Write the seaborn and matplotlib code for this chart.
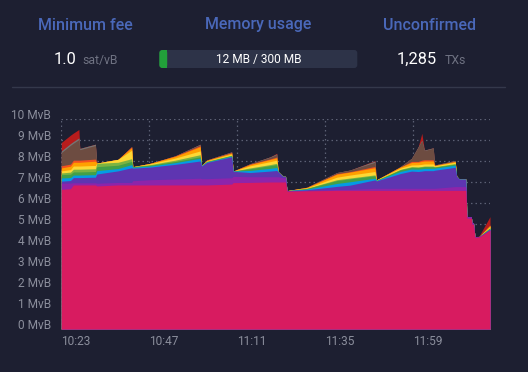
import numpy as np
import pandas as pd
import matplotlib
matplotlib.use("Agg")
import matplotlib.pyplot as plt
import matplotlib.transforms as mtransforms
from matplotlib.patches import FancyBboxPatch, Rectangle
import seaborn as sns

# ---------------- data ----------------
# minutes after 10:23
minutes = [0.0, 2.5, 3.3, 4.8, 5.05, 9.3, 9.7, 15.5, 19.2, 19.5,
           24.3, 31.1, 37.9, 38.3, 39.7, 46.5, 46.9, 51.5, 57.0, 58.8,
           59.2, 60.5, 61.2, 61.6, 67.0, 75.2, 78.8, 85.6, 86.0, 92.5,
           95.6, 97.4, 98.4, 99.1, 101.5, 101.9, 107.5, 107.9, 108.6, 110.4,
           110.7, 111.9, 112.1, 112.5, 112.9, 114.0, 117.0]

# stacked layers, MvB (bottom -> top)
pink = [6.65, 6.68, 6.86, 6.86, 6.86, 6.86, 6.81, 6.86, 6.86, 6.86,
        6.86, 6.86, 6.86, 6.86, 6.86, 6.90, 6.97, 6.98, 7.00, 7.00,
        7.00, 7.00, 7.00, 6.56, 6.58, 6.60, 6.60, 6.60, 6.60, 6.60,
        6.60, 6.60, 6.60, 6.60, 6.60, 6.60, 6.60, 6.60, 6.60, 6.60,
        5.28, 5.28, 4.98, 4.98, 4.36, 4.38, 4.71]
purple = [0.29, 0.27, 0.10, 0.10, 0.10, 0.10, 0.13, 0.12, 0.12, 0.20,
          0.25, 0.28, 0.32, 0.30, 0.30, 0.30, 0.30, 0.27, 0.25, 0.25,
          0.25, 0.20, 0.20, 0.02, 0.02, 0.04, 0.05, 0.10, 0.10, 0.10,
          0.10, 0.10, 0.10, 0.10, 0.10, 0.10, 0.18, 0.18, 0.18, 0.18,
          0.07, 0.07, 0.07, 0.07, 0.04, 0.02, 0.02]
deep_purple = [0.10, 0.12, 0.25, 0.25, 0.25, 0.27, 0.44, 0.55, 0.70, 0.60,
               0.60, 0.70, 0.82, 0.60, 0.77, 1.00, 0.24, 0.20, 0.27, 0.30,
               0.23, 0.07, 0.07, 0.01, 0.03, 0.15, 0.20, 0.40, 0.35, 0.70,
               0.82, 0.80, 0.82, 0.84, 0.84, 0.86, 0.92, 0.50, 0.36, 0.36,
               0.0, 0.0, 0.0, 0.0, 0.0, 0.0, 0.02]
cyan = [0.15, 0.14, 0.12, 0.12, 0.12, 0.12, 0.16, 0.11, 0.15, 0.04,
        0.05, 0.08, 0.13, 0.02, 0.02, 0.03, 0.01, 0.10, 0.13, 0.14,
        0.01, 0.0, 0.0, 0.0, 0.03, 0.14, 0.16, 0.08, 0.02, 0.10,
        0.10, 0.11, 0.11, 0.11, 0.11, 0.10, 0.10, 0.0, 0.0, 0.0,
        0.0, 0.0, 0.0, 0.0, 0.0, 0.0, 0.02]
green = [0.16, 0.16, 0.15, 0.15, 0.15, 0.15, 0.19, 0.16, 0.15, 0.03,
         0.04, 0.06, 0.07, 0.01, 0.02, 0.03, 0.0, 0.08, 0.13, 0.14,
         0.0, 0.0, 0.0, 0.0, 0.03, 0.14, 0.14, 0.12, 0.01, 0.08,
         0.08, 0.08, 0.08, 0.08, 0.08, 0.05, 0.05, 0.0, 0.0, 0.0,
         0.0, 0.0, 0.0, 0.0, 0.0, 0.0, 0.04]
light_green = [0.08, 0.10, 0.13, 0.13, 0.13, 0.13, 0.16, 0.14, 0.13, 0.0,
               0.03, 0.06, 0.10, 0.0, 0.02, 0.02, 0.0, 0.04, 0.05, 0.06,
               0.0, 0.0, 0.0, 0.0, 0.01, 0.04, 0.04, 0.04, 0.01, 0.02,
               0.03, 0.03, 0.03, 0.03, 0.03, 0.02, 0.03, 0.0, 0.0, 0.0,
               0.0, 0.0, 0.0, 0.0, 0.0, 0.0, 0.02]
yellow = [0.10, 0.12, 0.15, 0.15, 0.15, 0.16, 0.01, 0.14, 0.40, 0.0,
          0.04, 0.10, 0.18, 0.0, 0.02, 0.05, 0.0, 0.10, 0.14, 0.15,
          0.0, 0.0, 0.0, 0.0, 0.02, 0.12, 0.14, 0.16, 0.01, 0.06,
          0.08, 0.10, 0.10, 0.10, 0.10, 0.04, 0.06, 0.0, 0.0, 0.0,
          0.0, 0.0, 0.0, 0.0, 0.0, 0.0, 0.05]
orange = [0.14, 0.16, 0.18, 0.18, 0.18, 0.20, 0.0, 0.0, 0.12, 0.0,
          0.02, 0.08, 0.20, 0.0, 0.02, 0.05, 0.0, 0.06, 0.10, 0.11,
          0.0, 0.0, 0.0, 0.0, 0.02, 0.14, 0.14, 0.18, 0.0, 0.05,
          0.12, 0.12, 0.14, 0.14, 0.14, 0.02, 0.04, 0.0, 0.0, 0.0,
          0.0, 0.0, 0.0, 0.0, 0.0, 0.0, 0.05]
deep_orange = [0.10, 0.10, 0.10, 0.10, 0.10, 0.10, 0.0, 0.0, 0.05, 0.0,
               0.0, 0.02, 0.05, 0.0, 0.01, 0.02, 0.0, 0.02, 0.03, 0.04,
               0.0, 0.0, 0.0, 0.0, 0.0, 0.03, 0.02, 0.06, 0.0, 0.0,
               0.05, 0.04, 0.06, 0.06, 0.06, 0.0, 0.0, 0.0, 0.0, 0.0,
               0.0, 0.0, 0.0, 0.0, 0.0, 0.0, 0.02]
brown = [0.63, 0.90, 0.81, 0.98, 0.50, 0.65, 0.0, 0.0, 0.0, 0.0,
         0.0, 0.01, 0.05, 0.01, 0.01, 0.03, 0.0, 0.02, 0.08, 0.12,
         0.0, 0.0, 0.0, 0.0, 0.01, 0.05, 0.08, 0.20, 0.0, 0.02,
         0.15, 0.68, 0.93, 0.44, 0.55, 0.02, 0.03, 0.0, 0.0, 0.0,
         0.0, 0.0, 0.0, 0.0, 0.0, 0.0, 0.0]
grey = [0.08, 0.08, 0.08, 0.08, 0.06, 0.06, 0.0, 0.0, 0.0, 0.0,
        0.0, 0.0, 0.02, 0.0, 0.0, 0.01, 0.0, 0.0, 0.02, 0.03,
        0.0, 0.0, 0.0, 0.0, 0.0, 0.0, 0.0, 0.06, 0.0, 0.0,
        0.0, 0.02, 0.02, 0.02, 0.02, 0.0, 0.02, 0.0, 0.0, 0.0,
        0.0, 0.0, 0.0, 0.0, 0.0, 0.0, 0.0]
red = [0.40, 0.40, 0.40, 0.40, 0.0, 0.0, 0.0, 0.0, 0.0, 0.0,
       0.0, 0.0, 0.0, 0.0, 0.0, 0.0, 0.0, 0.0, 0.0, 0.03,
       0.0, 0.0, 0.0, 0.0, 0.0, 0.0, 0.0, 0.02, 0.0, 0.0,
       0.0, 0.0, 0.33, 0.0, 0.0, 0.0, 0.0, 0.0, 0.0, 0.0,
       0.0, 0.0, 0.0, 0.0, 0.0, 0.02, 0.40]

x_tick_pos = [0, 24, 48, 72, 96]
x_tick_labels = ["10:23", "10:47", "11:11", "11:35", "11:59"]
y_ticks = list(range(0, 11))
y_tick_labels = [f"{v} MvB" for v in y_ticks]

# header stats
min_fee = "1.0"
min_fee_unit = "sat/vB"
mem_text = "12 MB / 300 MB"
mem_used, mem_total = 12, 300
unconfirmed = "1,285"
unconfirmed_unit = "TXs"

# ---------------- styling ----------------
BG = "#1d1f31"
sns.set_theme(style="dark")
plt.rcParams["font.family"] = ["Roboto", "DejaVu Sans"]

layer_names = ["pink", "purple", "deep_purple", "cyan", "green", "light_green",
               "yellow", "orange", "deep_orange", "brown", "grey", "red"]
layer_colors = ["#D81B60", "#8E24AA", "#5E35B1", "#039BE5", "#43A047", "#7CB342",
                "#FDD835", "#FFA000", "#F4511E", "#6D4C41", "#757575", "#B71C1C"]

df = pd.DataFrame({
    "pink": pink, "purple": purple, "deep_purple": deep_purple, "cyan": cyan,
    "green": green, "light_green": light_green, "yellow": yellow, "orange": orange,
    "deep_orange": deep_orange, "brown": brown, "grey": grey, "red": red,
}, index=pd.Index(minutes, name="minutes"))

tops = df[layer_names].cumsum(axis=1)

fig = plt.figure(figsize=(5.28, 3.72), dpi=100, facecolor=BG)
W, H = 528, 372
ax = fig.add_axes([61.3 / W, 1 - 329 / H, (490 - 61.3) / W, (329 - 119) / H])
ax.set_facecolor(BG)

# draw from the top layer down so lower layers cover upper ones (no seams)
for name, color in reversed(list(zip(layer_names, layer_colors))):
    ax.fill_between(df.index.values, 0, tops[name].values, color=color,
                    lw=0, zorder=2)

ax.set_xlim(0, 117)
ax.set_ylim(0, 10)
ax.set_xticks(x_tick_pos)
ax.set_xticklabels(x_tick_labels)
ax.set_yticks(y_ticks)
ax.set_yticklabels(y_tick_labels)
ax.set_axisbelow(True)
ax.grid(True, color="#5c6074", linestyle=(0, (1.2, 2.4)), lw=0.9)
sns.despine(ax=ax, left=True, bottom=True)
for s in ax.spines.values():
    s.set_visible(False)
ax.tick_params(axis="both", length=0, colors="#8b8e9c", labelsize=8.6)
ax.tick_params(axis="y", pad=7.5)
ax.tick_params(axis="x", pad=4)
for lbl in ax.get_xticklabels():
    lbl.set_ha("left")
offset = mtransforms.ScaledTranslation(0, 5 / 100, fig.dpi_scale_trans)
for lbl in ax.get_yticklabels():
    lbl.set_transform(lbl.get_transform() + offset)

# ---------------- header ----------------
oax = fig.add_axes([0, 0, 1, 1])
oax.set_xlim(0, W)
oax.set_ylim(H, 0)
oax.axis("off")

title_c = "#4a68b9"
for txt, cx in [("Minimum fee", 85), ("Memory usage", 258), ("Unconfirmed", 430)]:
    oax.text(cx, 25, txt, ha="center", va="center", fontsize=11.5,
             color=title_c, fontweight="medium")

base_y = 64.3
oax.text(54, base_y, min_fee, ha="left", va="baseline", fontsize=11.8, color="white")
oax.text(82, base_y, min_fee_unit, ha="left", va="baseline", fontsize=8.8, color="#6f7282")
oax.text(397, base_y, unconfirmed, ha="left", va="baseline", fontsize=11.8, color="white")
oax.text(445, base_y, unconfirmed_unit, ha="left", va="baseline", fontsize=8.8, color="#6f7282")

bar_x0, bar_w, bar_y0, bar_h = 159.3, 198.0, 50.0, 18.0
oax.add_patch(FancyBboxPatch((bar_x0, bar_y0), bar_w, bar_h,
                             boxstyle="round,pad=0,rounding_size=3",
                             facecolor="#2d3348", edgecolor="none"))
gw = max(bar_w * mem_used / mem_total, 6.7)
oax.add_patch(FancyBboxPatch((bar_x0, bar_y0), gw, bar_h,
                             boxstyle="round,pad=0,rounding_size=3",
                             facecolor="#22a03a", edgecolor="none"))
oax.add_patch(Rectangle((bar_x0 + gw - 3, bar_y0), 3, bar_h,
                        facecolor="#22a03a", edgecolor="none"))
oax.text(bar_x0 + bar_w / 2, 59, mem_text, ha="center", va="center",
         fontsize=8.6, color="white")

oax.plot([12, 505], [87.3, 87.3], color="#34384b", lw=1)

fig.savefig("out.png", dpi=100, facecolor=BG)
